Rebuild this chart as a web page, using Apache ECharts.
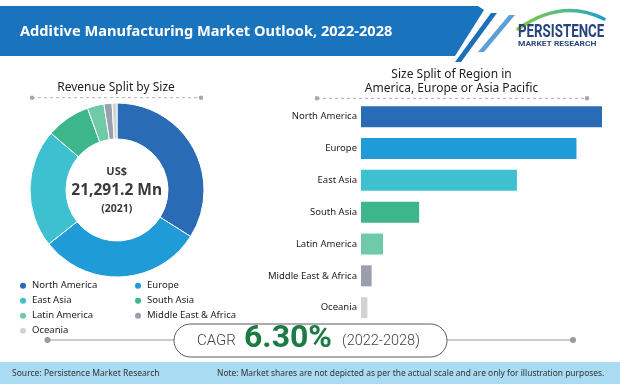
<!DOCTYPE html>
<html>
<head>
<meta charset="utf-8">
<script src="https://cdn.jsdelivr.net/npm/echarts@6/dist/echarts.min.js"></script>
<style>
html,body{margin:0;padding:0;background:#fff;}
#chart{width:620px;height:384px;}
</style>
</head>
<body>
<div id="chart"></div>
<script>
// ---- data ----
var regions = ['North America', 'Europe', 'East Asia', 'South Asia', 'Latin America', 'Middle East & Africa', 'Oceania'];
var regionShare = [34, 30.4, 22, 8.2, 3.1, 1.5, 0.9];
var regionColors = ['#2a6bb5', '#1f9bd7', '#3dc0cf', '#3cb68a', '#6ecaa7', '#9a9fb0', '#d2d3d7'];
var legendCol1 = ['North America', 'East Asia', 'Latin America', 'Oceania'];
var legendCol2 = ['Europe', 'South Asia', 'Middle East & Africa'];
var mainTitle = 'Additive Manufacturing Market Outlook, 2022-2028';
var pieTitle = 'Revenue Split by Size';
var barTitle = ['Size Split of Region in', 'America, Europe or Asia Pacific'];
var centerText = ['US$', '21,291.2 Mn', '(2021)'];
var cagrText = ['CAGR', '6.30%', '(2022-2028)'];
var sourceText = 'Source: Persistence Market Research';
var noteText = 'Note: Market shares are not depicted as per the actual scale and are only for illustration purposes.';

var FONT = "'Noto Sans', sans-serif";

function txt(x, y, text, o) {
  o = o || {};
  return {
    type: 'text', x: o.ex || 0, y: 0, scaleX: o.scaleX || 1, z: 20,
    style: {
      x: x, y: y, text: text,
      fill: o.fill || '#222',
      fontSize: o.size || 12,
      fontWeight: o.weight || 'normal',
      fontFamily: o.family || FONT,
      textAlign: o.align || 'left', align: o.align || 'left',
      textVerticalAlign: 'middle', verticalAlign: 'middle'
    }
  };
}
function dashed(x1, x2, y) {
  return [
    {type: 'line', shape: {x1: x1, y1: y, x2: x2, y2: y}, style: {stroke: '#b0b0b0', lineWidth: 1, lineDash: [3, 3]}},
    {type: 'circle', shape: {cx: x1, cy: y, r: 2.2}, style: {fill: '#a8a8a8'}},
    {type: 'circle', shape: {cx: x2, cy: y, r: 2.2}, style: {fill: '#a8a8a8'}}
  ];
}

var pieData = regions.map(function (r, i) {
  return {name: r, value: regionShare[i], itemStyle: {color: regionColors[i]}};
});
var barData = regions.map(function (r, i) {
  return {value: regionShare[i], itemStyle: {color: regionColors[i]}};
});

var graphics = [
  // header band
  {type: 'polygon', shape: {points: [[0, 6], [478, 6], [484, 10], [455, 56], [0, 56]]}, style: {fill: '#1a73bd'}},
  {type: 'polygon', shape: {points: [[491, 13], [497, 13], [461, 62], [455, 62]]}, style: {fill: '#1a6fb8'}},
  {type: 'polygon', shape: {points: [[509, 15], [515, 15], [484, 52], [478, 52]]}, style: {fill: '#5d9fd8'}},
  txt(20, 31.5, mainTitle, {fill: '#ffffff', size: 14.6, weight: 'bold'}),
  // logo
  {type: 'bezierCurve', shape: {x1: 518, y1: 29, cpx1: 562, cpy1: -2, x2: 604, y2: 19},
    style: {fill: null, stroke: new echarts.graphic.LinearGradient(0, 0, 1, 0, [{offset: 0, color: '#8cc63f'}, {offset: 0.6, color: '#4fb88f'}, {offset: 1, color: '#1e9ad6'}]), lineWidth: 3.5, lineCap: 'round'}},
  txt(0, 32, 'PERSISTENCE', {ex: 518, scaleX: 0.74, fill: '#26457d', size: 18, weight: 'bold', family: 'Roboto, sans-serif'}),
  txt(0, 44.5, 'MARKET RESEARCH', {ex: 518, scaleX: 1.2, fill: '#2c4a80', size: 7, weight: 'bold', family: 'Roboto, sans-serif'}),
  // titles
  txt(116, 88, pieTitle, {size: 12, align: 'center', fill: '#1e1e1e'}),
  txt(451.5, 75, barTitle[0], {size: 12, align: 'center', fill: '#1e1e1e'}),
  txt(451.5, 88.3, barTitle[1], {size: 12, align: 'center', fill: '#1e1e1e'}),
  // donut center
  txt(116.7, 171.5, centerText[0], {size: 11, weight: 'bold', align: 'center', fill: '#3a3a3a'}),
  txt(116.7, 190.5, centerText[1], {size: 15.5, weight: 'bold', align: 'center', fill: '#3a3a3a'}),
  txt(116.7, 209, centerText[2], {size: 10.5, weight: 'bold', align: 'center', fill: '#3a3a3a'}),
  // CAGR
  {type: 'line', shape: {x1: 47.5, y1: 340, x2: 573, y2: 340}, style: {stroke: '#9a9a9a', lineWidth: 1}},
  {type: 'circle', shape: {cx: 47.5, cy: 340, r: 3}, style: {fill: '#9a9a9a'}},
  {type: 'circle', shape: {cx: 573, cy: 340, r: 3}, style: {fill: '#9a9a9a'}},
  {type: 'rect', shape: {x: 174, y: 324, width: 273, height: 33, r: 16.5}, style: {fill: '#ffffff', stroke: '#5a5a5a', lineWidth: 1}},
  txt(197, 341, cagrText[0], {size: 15, fill: '#444', weight: 300, family: 'Roboto, sans-serif'}),
  txt(244, 339, cagrText[1], {size: 32, fill: '#1c7a44', weight: 'bold', family: 'Roboto, sans-serif'}),
  txt(342, 341.5, cagrText[2], {size: 14.5, fill: '#444', weight: 300, family: 'Roboto, sans-serif'}),
  // footer
  {type: 'rect', shape: {x: 0, y: 362, width: 620, height: 22}, style: {fill: '#a9dcf2'}},
  txt(0, 373, sourceText, {ex: 12, scaleX: 0.95, size: 9, fill: '#333'}),
  txt(0, 373, noteText, {ex: 217, scaleX: 0.935, size: 9, fill: '#333'})
].concat(dashed(32, 201, 97.7)).concat(dashed(317, 587, 98.3));

var chart = echarts.init(document.getElementById('chart'), null, {renderer: 'canvas'});
chart.setOption({
  animation: false,
  backgroundColor: '#ffffff',
  textStyle: {fontFamily: FONT},
  legend: [
    {data: legendCol1, orient: 'vertical', left: 18, top: 279.7, padding: 0, itemGap: 3,
      icon: 'circle', itemWidth: 8, itemHeight: 8, selectedMode: false,
      textStyle: {fontSize: 9.5, color: '#222', lineHeight: 12, fontFamily: FONT}},
    {data: legendCol2, orient: 'vertical', left: 133, top: 279.7, padding: 0, itemGap: 3,
      icon: 'circle', itemWidth: 8, itemHeight: 8, selectedMode: false,
      textStyle: {fontSize: 9.5, color: '#222', lineHeight: 12, fontFamily: FONT}}
  ],
  grid: {left: 361, right: 18, top: 100.8, height: 222.8, containLabel: false},
  xAxis: {type: 'value', min: 0, max: 34, show: false},
  yAxis: {type: 'category', data: regions, inverse: true,
    axisLine: {show: false}, axisTick: {show: false}, splitLine: {show: false},
    axisLabel: {color: '#222', fontSize: 9.5, margin: 4, fontFamily: FONT}},
  series: [
    {type: 'pie', center: [117, 190], radius: [51, 87], startAngle: 90, clockwise: true,
      label: {show: false}, labelLine: {show: false}, silent: true,
      itemStyle: {borderColor: '#ffffff', borderWidth: 1},
      emphasis: {disabled: true}, data: pieData},
    {type: 'bar', barWidth: 21, silent: true, data: barData}
  ],
  graphic: graphics
});
</script>
</body>
</html>
